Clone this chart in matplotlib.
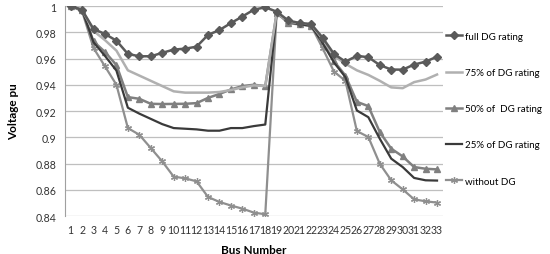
import matplotlib
matplotlib.use('Agg')
import matplotlib.pyplot as plt
import numpy as np

plt.rcParams['font.family'] = ['Lato', 'DejaVu Sans']

buses = list(range(1, 34))

full_dg = [1.000, 0.997, 0.9825, 0.9787, 0.9736, 0.9635, 0.9617, 0.9617, 0.9643, 0.9668,
           0.9675, 0.969, 0.978, 0.9817, 0.987, 0.992, 0.9972, 0.999, 0.9957, 0.989,
           0.987, 0.9863, 0.976, 0.9635, 0.9576, 0.962, 0.961, 0.955, 0.9516, 0.9515,
           0.9554, 0.9576, 0.9614]
dg_75 = [1.000, 0.997, 0.981, 0.974, 0.966, 0.951, 0.947, 0.943, 0.939, 0.935,
         0.934, 0.934, 0.934, 0.9345, 0.936, 0.938, 0.9395, 0.939, 0.995, 0.988,
         0.987, 0.986, 0.975, 0.962, 0.956, 0.951, 0.9475, 0.943, 0.938, 0.9374,
         0.942, 0.944, 0.9478]
dg_50 = [1.000, 0.997, 0.973, 0.965, 0.955, 0.9306, 0.9293, 0.9255, 0.9253, 0.9254,
         0.9255, 0.926, 0.930, 0.933, 0.9364, 0.939, 0.940, 0.939, 0.995, 0.987,
         0.986, 0.985, 0.973, 0.958, 0.947, 0.927, 0.9237, 0.904, 0.8913, 0.8854,
         0.8773, 0.876, 0.8755]
dg_25 = [1.000, 0.997, 0.9724, 0.962, 0.9508, 0.9225, 0.918, 0.914, 0.910, 0.907,
         0.9065, 0.906, 0.905, 0.905, 0.907, 0.907, 0.9085, 0.9097, 0.995, 0.988,
         0.986, 0.985, 0.972, 0.957, 0.9458, 0.9204, 0.9153, 0.8989, 0.8837, 0.8773,
         0.869, 0.8672, 0.867]
no_dg = [1.000, 0.996, 0.968, 0.954, 0.940, 0.907, 0.9019, 0.8918, 0.8816, 0.870,
         0.8687, 0.8664, 0.8545, 0.8507, 0.848, 0.8456, 0.8426, 0.8413, 0.995, 0.988,
         0.986, 0.985, 0.968, 0.950, 0.943, 0.9047, 0.9002, 0.8798, 0.8672, 0.8603,
         0.8527, 0.8512, 0.8502]

y_ticks = [0.84, 0.86, 0.88, 0.9, 0.92, 0.94, 0.96, 0.98, 1.0]
y_tick_labels = ['0.84', '0.86', '0.88', '0.9', '0.92', '0.94', '0.96', '0.98', '1']

fig = plt.figure(figsize=(5.5, 2.55), dpi=100)
ax = fig.add_axes([0.118, 0.149, 0.687, 0.8235])

x = np.arange(len(buses))
ax.plot(x, full_dg, color='#5a5a5a', lw=1.8, marker='D', ms=3.8, label='full DG rating', zorder=5)
ax.plot(x, dg_75, color='#b0b0b0', lw=1.8, label='75% of DG rating', zorder=4)
ax.plot(x, dg_50, color='#808080', lw=1.8, marker='^', ms=5, label='50% of  DG rating', zorder=3)
ax.plot(x, dg_25, color='#3a3a3a', lw=1.6, label='25% of DG rating', zorder=3)
ax.plot(x, no_dg, color='#8f8f8f', lw=1.6, marker=(6, 2, 0), ms=5, mew=0.9,
        label='without DG', zorder=2)

ax.set_xlim(-0.5, len(buses) - 0.5)
ax.set_ylim(0.84, 1.0)
ax.set_xticks(x)
ax.set_xticklabels([str(b) for b in buses], fontsize=7.6, color='#333333')
ax.set_yticks(y_ticks)
ax.set_yticklabels(y_tick_labels, fontsize=7.6, color='#333333')
ax.tick_params(axis='both', length=0, pad=6)
ax.grid(axis='y', color='#bfbfbf', lw=0.9)
ax.set_axisbelow(True)
for side in ['top', 'right', 'bottom']:
    ax.spines[side].set_visible(False)
ax.spines['left'].set_color('#a0a0a0')

ax.set_xlabel('Bus Number', fontsize=8.5, fontweight='bold', labelpad=6)
ax.set_ylabel('Voltage pu', fontsize=8.5, fontweight='bold', labelpad=12)

fig.legend(loc='center left', bbox_to_anchor=(0.807, 0.57), frameon=False,
           fontsize=7.0, labelspacing=2.8, handlelength=1.7, handletextpad=0.25,
           borderaxespad=0, borderpad=0.2)

fig.savefig('out.png', dpi=100)
